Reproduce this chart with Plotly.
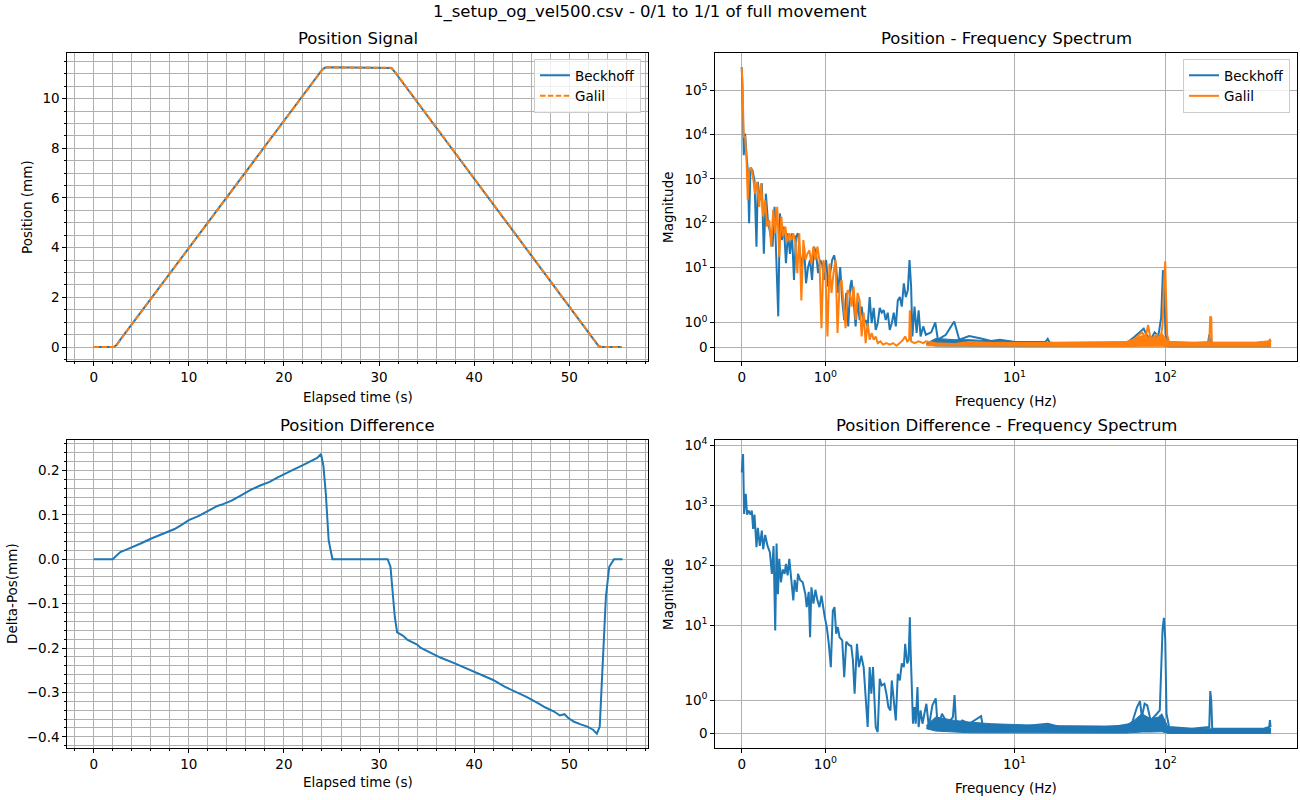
import numpy as np
import plotly.graph_objects as go

BLUE = '#1f77b4'
ORANGE = '#ff7f0e'
GRID = '#b0b0b0'
FONT = 'DejaVu Sans'

TITLE = '1_setup_og_vel500.csv - 0/1 to 1/1 of full movement'

# position signal (mm) over elapsed time (s)
pos_time = [0.0, 2.1, 2.4, 2.8, 24.0, 24.3, 24.6, 31.0, 31.3, 31.6, 52.8, 53.1, 53.4, 55.5]
beckhoff_pos = [0.0, 0.0, 0.08, 0.3, 11.15, 11.24, 11.26, 11.26, 11.23, 11.1, 0.15, 0.03, 0.0, 0.0]
galil_pos = [0.0, 0.0, 0.07, 0.29, 11.14, 11.24, 11.26, 11.26, 11.24, 11.12, 0.16, 0.04, 0.0, 0.0]

# position difference (mm)
diff_time = [0.0, 2.0, 2.3, 2.8, 3.5, 4.2, 5.0, 6.0, 7.0, 7.7, 8.5, 9.2, 10.0,
             11.0, 12.0, 13.0, 13.6, 14.5, 15.5, 16.5, 17.5, 18.5, 19.3, 20.0, 21.0,
             22.0, 23.0, 23.5, 23.9, 24.15, 24.4, 24.7, 25.1, 30.9, 31.2, 31.4, 31.65,
             31.9, 32.5, 33.0, 34.0, 34.4, 35.5, 36.5, 37.9, 39.0, 40.0, 41.0, 42.0,
             43.2, 44.3, 45.5, 46.7, 47.5, 48.4, 49.0, 49.5, 49.8, 50.2, 50.5, 51.2,
             51.9, 52.5, 52.9, 53.2, 53.5, 53.85, 54.2, 54.7, 55.6]
diff_pos = [0.0, 0.0, 0.006, 0.016, 0.022, 0.028, 0.036, 0.046, 0.055,
            0.062, 0.068, 0.077, 0.088, 0.097, 0.108, 0.12, 0.124, 0.132, 0.144, 0.156,
            0.166, 0.174, 0.184, 0.192, 0.202, 0.212, 0.222, 0.228, 0.237, 0.21, 0.149,
            0.043, 0.0, 0.0, -0.017, -0.062, -0.129, -0.165, -0.172, -0.182, -0.192,
            -0.2, -0.212, -0.222, -0.234, -0.244, -0.253, -0.262, -0.272, -0.287,
            -0.298, -0.31, -0.324, -0.334, -0.343, -0.352, -0.349, -0.356, -0.362,
            -0.366, -0.372, -0.377, -0.384, -0.393, -0.377, -0.227, -0.084, -0.017,
            0.0, 0.0]

# spectra: (frequency Hz, magnitude)
beckhoff_spec = [
    (0.0, 3.35e5), (0.008, 1.2e5), (0.024, 3400), (0.04, 10500), (0.056, 3600),
    (0.072, 1550), (0.088, 98), (0.104, 1800), (0.128, 1550), (0.152, 920),
    (0.176, 29), (0.192, 850), (0.216, 330), (0.24, 790), (0.264, 20), (0.288, 460),
    (0.312, 116), (0.344, 58), (0.368, 29), (0.392, 232), (0.416, 14.5), (0.436, 1.25),
    (0.456, 164), (0.48, 41), (0.504, 82), (0.528, 12.2), (0.552, 58), (0.576, 20),
    (0.6, 58), (0.624, 5.1), (0.648, 49), (0.672, 58), (0.696, 20), (0.72, 10.2),
    (0.744, 29), (0.768, 4.3), (0.792, 10), (0.816, 14.5), (0.84, 5.1), (0.864, 29),
    (0.888, 20), (0.912, 7.3), (0.936, 14.5), (0.96, 12), (0.984, 5.1), (1.008, 14.5),
    (1.032, 3.6), (1.056, 7.3), (1.08, 14.5), (1.104, 18.5), (1.128, 10), (1.152, 2.6),
    (1.176, 10), (1.2, 1.9), (1.224, 1.1), (1.248, 2.6), (1.272, 0.84), (1.296, 3.6),
    (1.312, 5.1), (1.336, 1.9), (1.36, 0.84), (1.384, 1.9), (1.408, 1.1), (1.432, 1.65),
    (1.456, 0.97), (1.48, 1.1), (1.504, 0.84), (1.528, 2.1), (1.552, 0.97), (1.576, 1.6),
    (1.6, 0.7), (1.624, 0.97), (1.648, 1.6), (1.672, 1.4), (1.696, 1.5), (1.72, 1.1),
    (1.744, 1.4), (1.768, 0.7), (1.792, 0.97), (1.816, 1.4), (1.84, 0.84), (1.864, 1.9),
    (1.888, 2.1), (1.912, 1.65), (1.936, 4.3), (1.96, 2.1), (1.984, 3.0), (2.01, 14.5),
    (2.06, 3.6), (2.1, 0.43), (2.17, 1.65), (2.24, 0.57), (2.31, 1.5), (2.38, 0.43),
    (2.48, 0.84), (2.58, 0.5), (2.8, 0.6), (2.98, 1.0), (3.1, 0.3), (3.5, 0.5),
    (3.98, 1.04), (4.3, 0.3), (5.0, 0.45), (6.0, 0.35), (7.0, 0.25), (8.0, 0.3),
    (10.0, 0.2), (16.0, 0.2), (16.6, 0.33), (17.2, 0.15), (30.0, 0.15), (40.0, 0.12),
    (55.0, 0.15), (62.0, 0.4), (68.0, 0.6), (72.0, 0.75), (75.0, 0.5), (80.0, 0.3),
    (85.0, 0.6), (90.0, 0.45), (94.0, 1.2), (95.5, 3.5), (96.6, 8.5), (98.0, 5.0),
    (100.5, 0.5), (105.0, 0.2), (150.0, 0.1), (192.0, 0.12), (196.0, 0.5), (199.0, 0.2),
    (210.0, 0.08), (400.0, 0.08), (490.0, 0.1), (500.0, 0.1),
]
galil_spec = [
    (0.0, 3.35e5), (0.008, 1.5e5), (0.024, 8800), (0.04, 8800), (0.056, 3100),
    (0.072, 330), (0.088, 1550), (0.112, 1800), (0.136, 1050), (0.16, 460),
    (0.184, 850), (0.208, 232), (0.232, 790), (0.256, 140), (0.28, 330), (0.304, 82),
    (0.328, 116), (0.352, 29), (0.376, 200), (0.4, 58), (0.424, 232), (0.448, 17),
    (0.472, 140), (0.496, 49), (0.52, 82), (0.544, 37), (0.568, 58), (0.592, 41),
    (0.616, 58), (0.64, 37), (0.664, 7.3), (0.688, 58), (0.712, 1.9), (0.736, 41),
    (0.76, 14.5), (0.784, 20), (0.808, 24), (0.832, 12), (0.856, 29), (0.88, 14.5),
    (0.904, 29), (0.928, 14.5), (0.952, 0.77), (0.976, 14.5), (1.0, 7.3), (1.024, 0.43),
    (1.048, 12), (1.072, 2.6), (1.096, 7.3), (1.12, 14.5), (1.144, 0.57), (1.168, 3.6),
    (1.192, 5.1), (1.216, 1.9), (1.24, 0.77), (1.264, 3.0), (1.288, 2.6), (1.312, 1.65),
    (1.336, 3.6), (1.36, 1.1), (1.384, 2.6), (1.408, 1.9), (1.432, 0.43), (1.456, 1.4),
    (1.48, 0.16), (1.504, 0.97), (1.528, 0.3), (1.552, 0.57), (1.576, 0.3), (1.6, 0.43),
    (1.624, 0.16), (1.656, 0.23), (1.688, 0.1), (1.728, 0.16), (1.768, 0.1),
    (1.808, 0.16), (1.848, 0.05), (1.888, 0.16), (1.928, 0.3), (1.952, 0.43),
    (1.976, 0.23), (2.0, 0.3), (2.02, 1.5), (2.06, 0.23), (2.17, 0.16), (2.31, 0.23),
    (2.48, 0.16), (2.58, 0.23), (3.0, 0.15), (4.0, 0.12), (5.0, 0.2), (8.0, 0.15),
    (10.0, 0.15), (60.0, 0.2), (66.0, 0.45), (70.0, 0.6), (74.0, 0.4), (77.0, 0.9),
    (80.0, 0.3), (88.0, 0.5), (93.0, 0.3), (96.0, 0.9), (98.0, 4.0), (100.0, 13.6),
    (101.0, 3.0), (103.0, 0.5), (106.0, 0.2), (150.0, 0.15), (196.0, 0.2), (199.0, 1.25),
    (202.0, 1.2), (204.0, 0.15), (400.0, 0.15), (490.0, 0.2), (495.0, 0.33), (500.0, 0.2),
]
diff_spec = [
    (0.0, 3550), (0.016, 7190), (0.028, 720), (0.048, 1550), (0.064, 700), (0.08, 820),
    (0.104, 700), (0.12, 820), (0.136, 405), (0.152, 700), (0.176, 200), (0.192, 420),
    (0.216, 210), (0.24, 380), (0.256, 185), (0.28, 320), (0.308, 210), (0.336, 165),
    (0.36, 72), (0.38, 210), (0.4, 8.2), (0.416, 230), (0.432, 33), (0.448, 128),
    (0.468, 52), (0.488, 85), (0.512, 72), (0.528, 105), (0.548, 68), (0.568, 128),
    (0.592, 57), (0.616, 26), (0.632, 57), (0.656, 36), (0.672, 72), (0.696, 57),
    (0.728, 52), (0.76, 33), (0.776, 20), (0.8, 36), (0.816, 6.3), (0.832, 43),
    (0.856, 23), (0.88, 39), (0.904, 26), (0.928, 20), (0.952, 31), (0.976, 16.5),
    (0.992, 13.6), (1.016, 9.3), (1.04, 4.9), (1.064, 2.0), (1.088, 17.5), (1.108, 20),
    (1.128, 7.2), (1.148, 9.3), (1.168, 6.3), (1.2, 5.6), (1.224, 1.7), (1.248, 5.3),
    (1.28, 4.7), (1.308, 4.5), (1.328, 2.6), (1.348, 1.2), (1.376, 4.9), (1.4, 2.0),
    (1.428, 3.1), (1.456, 2.0), (1.48, 1.0), (1.504, 0.2), (1.528, 2.0), (1.548, 1.2),
    (1.568, 2.0), (1.6, 0.2), (1.624, 0.05), (1.648, 1.65), (1.672, 1.45), (1.704, 1.5),
    (1.728, 1.2), (1.752, 0.8), (1.776, 0.7), (1.792, 1.6), (1.816, 1.0), (1.84, 0.4),
    (1.864, 1.8), (1.888, 1.6), (1.912, 2.3), (1.936, 2.0), (1.952, 4.9), (1.976, 2.3),
    (1.992, 2.6), (2.02, 13.6), (2.04, 4.5), (2.08, 1.2), (2.12, 0.3), (2.17, 0.8),
    (2.21, 0.3), (2.27, 1.4), (2.31, 0.2), (2.38, 0.7), (2.45, 0.3), (2.6, 0.9),
    (2.7, 0.2), (2.85, 0.85), (3.0, 1.06), (3.1, 0.15), (3.3, 0.6), (3.6, 0.3),
    (3.9, 0.5), (4.0, 1.16), (4.1, 0.2), (4.5, 0.4), (5.0, 0.3), (6.0, 0.53),
    (6.2, 0.15), (8.0, 0.25), (10.0, 0.2), (16.6, 0.3), (20.0, 0.2), (45.0, 0.2),
    (60.0, 0.3), (65.0, 0.8), (68.0, 0.98), (70.0, 0.5), (73.0, 0.9), (76.0, 0.85),
    (80.0, 0.4), (88.0, 0.6), (92.0, 0.7), (96.0, 8.5), (98.0, 13.3), (100.0, 6.0),
    (102.0, 0.6), (106.0, 0.2), (150.0, 0.15), (196.0, 0.2), (199.0, 1.28),
    (202.0, 1.0), (205.0, 0.15), (450.0, 0.15), (490.0, 0.2), (495.0, 0.41), (500.0, 0.2),
]

# dense noise floor of each spectrum, as low/high envelope
band_freq = [2.6, 3, 4, 5, 7, 10, 15, 20, 30, 40, 55, 62, 70, 80, 90, 95, 105, 150, 200, 300, 400, 500]
beckhoff_band_lo = [0.1, 0.04, 0.03, 0.03, 0.02, 0.02, 0.02, 0.02, 0.02, 0.02, 0.02, 0.03,
                    0.05, 0.05, 0.05, 0.06, 0.01, 0.01, 0.01, 0.01, 0.01, 0.01]
beckhoff_band_hi = [0.15, 0.35, 0.3, 0.3, 0.25, 0.22, 0.2, 0.18, 0.16, 0.16, 0.18, 0.3,
                    0.45, 0.35, 0.45, 0.5, 0.13, 0.12, 0.12, 0.11, 0.11, 0.13]
galil_band_lo = [0.05, 0.02, 0.02, 0.02, 0.02, 0.02, 0.02, 0.02, 0.02, 0.02, 0.02, 0.03,
                 0.05, 0.05, 0.05, 0.06, 0.03, 0.03, 0.03, 0.03, 0.03, 0.03]
galil_band_hi = [0.12, 0.15, 0.13, 0.15, 0.18, 0.18, 0.18, 0.18, 0.18, 0.2, 0.22, 0.35,
                 0.45, 0.4, 0.4, 0.55, 0.22, 0.2, 0.2, 0.2, 0.2, 0.26]
diff_band_lo = [0.15, 0.08, 0.05, 0.03, 0.03, 0.02, 0.02, 0.02, 0.02, 0.02, 0.02, 0.03,
                0.05, 0.05, 0.05, 0.06, 0.01, 0.01, 0.01, 0.01, 0.01, 0.01]
diff_band_hi = [0.25, 0.5, 0.4, 0.35, 0.3, 0.27, 0.25, 0.24, 0.23, 0.23, 0.25, 0.4,
                0.6, 0.45, 0.5, 0.6, 0.17, 0.15, 0.15, 0.14, 0.14, 0.17]

LIN = 10 / 9  # matplotlib symlog, linthresh=2, linscale=1


def symlog(v):
    v = np.asarray(v, dtype=float)
    a = np.abs(v)
    big = 2 * (LIN + np.log10(np.maximum(a, 2) / 2))
    return np.where(a <= 2, v * LIN, np.sign(v) * big)


def pad(lo, hi):
    d = (hi - lo) * 0.05
    return [lo - d, hi + d]


fig = go.Figure()


def line(x, y, color, xa, ya, name=None, dash=None, legend=None):
    fig.add_trace(go.Scatter(x=x, y=y, mode='lines', name=name, showlegend=name is not None,
                             legend=legend, line=dict(color=color, width=2, dash=dash),
                             xaxis=xa, yaxis=ya))


def band(f, lo, hi, color, xa, ya):
    xs = symlog(list(f) + list(f)[::-1])
    ys = symlog(list(hi) + list(lo)[::-1])
    fig.add_trace(go.Scatter(x=xs, y=ys, mode='lines', fill='toself', fillcolor=color,
                             line=dict(color=color, width=1), showlegend=False,
                             hoverinfo='skip', xaxis=xa, yaxis=ya))


def spec(pairs):
    f, m = zip(*pairs)
    return symlog(f), symlog(m)


# top left: position signal
line(pos_time, beckhoff_pos, BLUE, 'x', 'y', 'Beckhoff', legend='legend')
line(pos_time, galil_pos, ORANGE, 'x', 'y', 'Galil', dash='5.5px,2.4px', legend='legend')

# top right: position spectrum
band(band_freq, beckhoff_band_lo, beckhoff_band_hi, BLUE, 'x2', 'y2')
bx, by = spec(beckhoff_spec)
line(bx, by, BLUE, 'x2', 'y2', 'Beckhoff', legend='legend2')
band(band_freq, galil_band_lo, galil_band_hi, ORANGE, 'x2', 'y2')
gx, gy = spec(galil_spec)
line(gx, gy, ORANGE, 'x2', 'y2', 'Galil', legend='legend2')

# bottom left: difference
line(diff_time, diff_pos, BLUE, 'x3', 'y3')

# bottom right: difference spectrum
band(band_freq, diff_band_lo, diff_band_hi, BLUE, 'x4', 'y4')
dx, dy = spec(diff_spec)
line(dx, dy, BLUE, 'x4', 'y4')

W, H = 1300, 800
L_DOM = [67.3 / W, 648 / W]
R_DOM = [715.3 / W, 1297 / W]
T_DOM = [1 - 361 / H, 1 - 53.3 / H]
B_DOM = [1 - 747.7 / H, 1 - 440 / H]

tickfont = dict(family=FONT, size=13.5, color='black')
frame = dict(showline=True, linecolor='black', linewidth=1, mirror=True, ticks='outside',
             ticklen=4, tickcolor='black', tickwidth=1, zeroline=False, tickfont=tickfont,
             gridcolor=GRID, gridwidth=0.8, showgrid=True, automargin=False)


def minor(step):
    return dict(dtick=step, ticks='outside', ticklen=2, tickcolor='black',
                showgrid=True, gridcolor=GRID, gridwidth=0.8)


trange = pad(min(pos_time), max(pos_time))
freq_all = [p[0] for p in beckhoff_spec + galil_spec + diff_spec]
frange = pad(0, float(symlog(max(freq_all))))
top_mag = [p[1] for p in beckhoff_spec + galil_spec]
top_range = pad(0, float(symlog(max(top_mag))))
bot_range = pad(0, float(symlog(max(p[1] for p in diff_spec))))

fx_vals = symlog([0, 1, 10, 100]).tolist()
fx_text = ['0', '10<sup>0</sup>', '10<sup>1</sup>', '10<sup>2</sup>']
top_vals = symlog([0] + [10 ** k for k in range(6)]).tolist()
top_text = ['0'] + ['10<sup>%d</sup>' % k for k in range(6)]
bot_vals = symlog([0] + [10 ** k for k in range(5)]).tolist()
bot_text = ['0'] + ['10<sup>%d</sup>' % k for k in range(5)]

fig.update_layout(
    width=W, height=H, margin=dict(l=0, r=0, t=0, b=0, autoexpand=False),
    paper_bgcolor='white', plot_bgcolor='white',
    font=dict(family=FONT, size=13.5, color='black'),
    xaxis=dict(domain=L_DOM, anchor='y', range=trange, dtick=10, tick0=0, minor=minor(2), **frame),
    yaxis=dict(domain=T_DOM, anchor='x', range=pad(0, max(beckhoff_pos)), dtick=2, tick0=0,
               minor=minor(0.5), **frame),
    xaxis2=dict(domain=R_DOM, anchor='y2', range=frange, tickvals=fx_vals, ticktext=fx_text, **frame),
    yaxis2=dict(domain=T_DOM, anchor='x2', range=top_range, tickvals=top_vals, ticktext=top_text, **frame),
    xaxis3=dict(domain=L_DOM, anchor='y3', range=trange, dtick=10, tick0=0, minor=minor(2), **frame),
    yaxis3=dict(domain=B_DOM, anchor='x3', range=pad(min(diff_pos), max(diff_pos)), dtick=0.1,
                tick0=0, tickformat='.1f', minor=minor(0.02), **frame),
    xaxis4=dict(domain=R_DOM, anchor='y4', range=frange, tickvals=fx_vals, ticktext=fx_text, **frame),
    yaxis4=dict(domain=B_DOM, anchor='x4', range=bot_range, tickvals=bot_vals, ticktext=bot_text, **frame),
    legend=dict(x=641 / W, y=1 - 59 / H, xanchor='right', yanchor='top', bgcolor='rgba(255,255,255,0.8)',
                bordercolor='#cccccc', borderwidth=1, font=dict(family=FONT, size=13.5)),
    legend2=dict(x=1290 / W, y=1 - 59 / H, xanchor='right', yanchor='top', bgcolor='rgba(255,255,255,0.8)',
                 bordercolor='#cccccc', borderwidth=1, font=dict(family=FONT, size=13.5)),
)


def text(s, x, y, size=13.5, angle=0):
    fig.add_annotation(text=s, x=x / W, y=1 - y / H, xref='paper', yref='paper', showarrow=False,
                       textangle=angle, font=dict(family=FONT, size=size, color='black'),
                       xanchor='center', yanchor='middle')


text(TITLE, 650, 12, 16.5)
text('Position Signal', 357.6, 39, 16.5)
text('Position - Frequency Spectrum', 1006, 39, 16.5)
text('Position Difference', 357.6, 425, 16.5)
text('Position Difference - Frequency Spectrum', 1006, 425, 16.5)
text('Elapsed time (s)', 357.6, 397)
text('Frequency (Hz)', 1006, 401)
text('Elapsed time (s)', 357.6, 782)
text('Frequency (Hz)', 1006, 788)
text('Position (mm)', 27, 207, angle=-90)
text('Magnitude', 668, 207, angle=-90)
text('Delta-Pos(mm)', 12, 594, angle=-90)
text('Magnitude', 668, 594, angle=-90)

# page body has a default margin; drop it so the figure sits at the window corner
fig.write_html('out.html', config={'displayModeBar': False},
               post_script="document.body.style.margin='0';")
